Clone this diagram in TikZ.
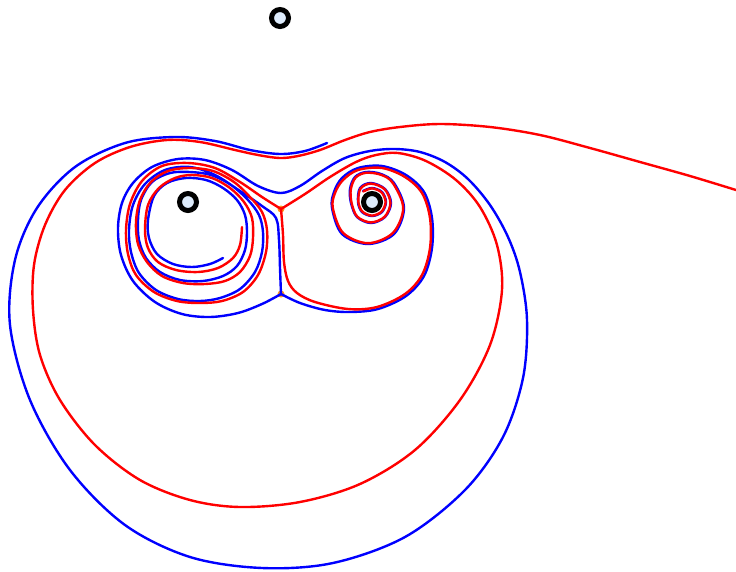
\documentclass[tikz,border=0pt]{standalone}
\definecolor{cblue}{RGB}{0,0,255}
\definecolor{cred}{RGB}{255,0,0}
\definecolor{bodyfill}{RGB}{222,236,252}
\definecolor{dotorange}{RGB}{255,150,30}
\begin{document}
\begin{tikzpicture}[x=1pt,y=-1pt,
  bcurve/.style={draw=cblue, line width=2.4pt, line join=round, line cap=round},
  rcurve/.style={draw=cred, line width=2.4pt, line join=round, line cap=round},
  body/.style={circle, draw=black, fill=bodyfill, line width=5pt, minimum size=17pt, inner sep=0pt},
  switchdot/.style={circle, fill=dotorange, minimum size=7pt, inner sep=0pt}]
\useasboundingbox (0,0) rectangle (736,571);

% switches
\node[switchdot] (s1) at (281,209) {};
\node[switchdot] (s2) at (281,294) {};

% ---------- blue ----------
\draw[bcurve] plot[smooth, tension=0.55] coordinates {
 (281,294) (262,304) (238,313) (210,317) (182,314) (155,302) (133,281) (121,255)
 (118,228) (122,203) (133,183) (152,167) (178,159) (205,160) (232,170) (258,186)
 (281,193) (300,186) (322,171) (345,158) (370,151) (395,149) (420,152) (445,162)
 (468,179) (490,205) (508,237) (520,272) (527,320) (523,378) (503,437) (465,490)
 (405,537) (333,563) (262,568) (190,557) (125,525) (70,470) (30,400) (10,325)
 (15,260) (37,208) (75,167) (125,143) (175,137) (215,141) (250,150) (280,154)
 (305,151) (327,143)};
\draw[bcurve] plot[smooth, tension=0.55] coordinates {
 (223,258) (210,264) (192,267) (173,264) (157,254) (149,238) (148,220) (154,196)
 (167,183) (186,178) (206,180) (223,188) (237,200) (245,215) (247,232) (245,250)
 (237,266) (223,276) (203,281) (180,280) (160,272) (146,258) (139,240) (138,220)
 (141,200) (152,182) (170,173) (190,172) (211,175) (231,185) (248,200) (259,215)
 (263,232) (262,252) (255,272) (240,289) (220,298) (200,301) (178,299) (156,290)
 (139,273) (131,252) (129,230) (133,205) (145,184) (165,170) (190,167) (215,175)
 (240,191) (262,206) (276,218) (279,240) (280,268) (281,294)};
\draw[bcurve] plot[smooth, tension=0.55] coordinates {
 (281,294) (300,303) (325,310) (350,312) (378,309) (406,296) (424,276) (432,248)
 (432,218) (424,192) (406,175) (382,166) (358,168) (342,178) (334,192) (332,208)
 (342,234) (368,244) (394,234) (404,208) (394,183) (381,174) (366,172) (355,177)
 (350,189) (351,203) (357,217) (371,223) (385,217) (391,203) (385,189) (371,183)
 (360,188) (358,202) (362,212) (372,216) (382,212) (386,202) (382,192) (372,188)
 (363,191)};

% ---------- red ----------
\draw[rcurve] plot[smooth, tension=0.55] coordinates {
 (736,190) (690,176) (640,162) (590,148) (540,135) (490,127) (440,124) (400,127)
 (370,132) (345,140) (320,150) (298,156) (280,158) (258,155) (235,150) (200,142)
 (167,140) (130,147) (95,163) (65,190) (45,225) (34,265) (33,310) (40,355)
 (60,400) (95,445) (140,480) (190,500) (240,507) (300,502) (360,484) (415,450)
 (460,400) (490,345) (502,290) (497,245) (480,207) (456,180) (426,161) (398,153)
 (376,155) (356,162) (330,177) (305,194) (281,209)};
\draw[rcurve] plot[smooth, tension=0.55] coordinates {
 (242,227) (240,245) (233,258) (218,268) (198,272) (176,270) (158,262) (148,248)
 (145,230) (148,205) (159,188) (175,178) (192,175) (212,178) (230,188) (244,202)
 (252,218) (253,238) (250,256) (240,272) (225,281) (205,284) (183,283) (162,276)
 (147,262) (138,244) (136,222) (140,200) (151,182) (168,171) (190,168) (213,171)
 (234,182) (250,197) (262,212) (267,230) (266,252) (258,275) (243,292) (222,301)
 (200,303) (177,301) (154,292) (136,275) (128,254) (126,230) (130,204) (142,181)
 (162,166) (188,163) (215,168) (240,182) (262,197) (281,209)};
\draw[rcurve] plot[smooth, tension=0.55] coordinates {
 (281,209) (283,235) (284,262) (288,281) (297,293) (315,302) (348,309) (377,307)
 (405,294) (422,275) (430,248) (430,218) (422,193) (405,177) (382,168) (358,170)
 (343,180) (335,193) (332.8,208) (343.1,232.9) (368,243.2) (392.9,232.9) (403.2,208)
 (392.9,183.1) (381,174.8) (366,172.8) (355.6,177.6) (350.8,189.4) (351.6,203)
 (357.3,216.7) (371,222.4) (384.7,216.7) (390.4,203) (384.7,189.3) (371,183.6)
 (360.5,188.6) (358.4,202) (362.4,211.6) (372,215.6) (381.6,211.6) (385.6,202)
 (381.6,192.4) (372,188.4) (363.3,191.5)};

% bodies
\node[body] (p1) at (280,18) {};
\node[body] (p2) at (188,202) {};
\node[body] (p3) at (372,202) {};
\end{tikzpicture}
\end{document}
